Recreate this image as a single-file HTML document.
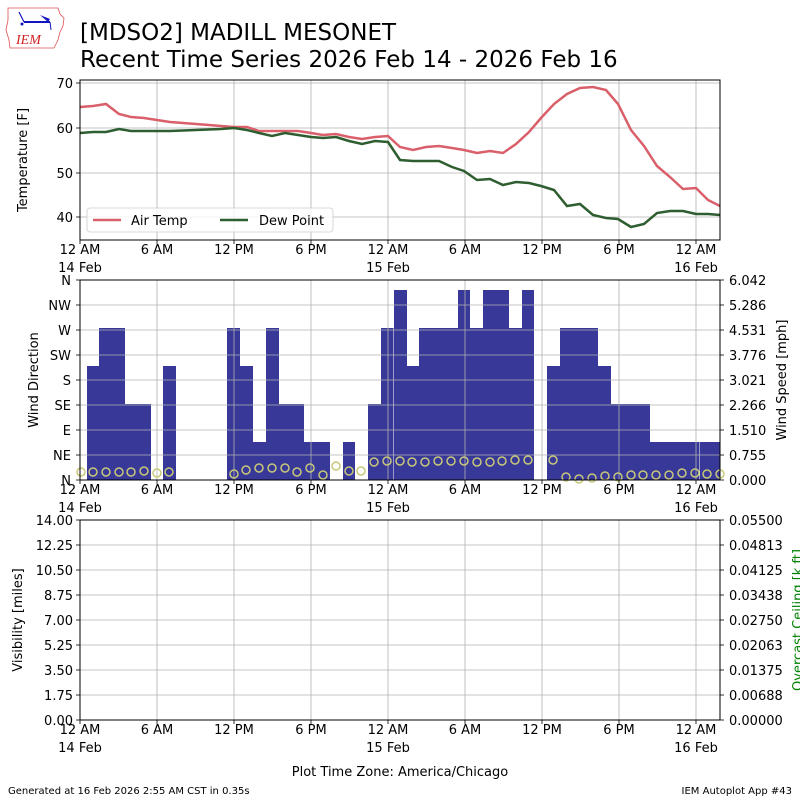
<!DOCTYPE html>
<html><head><meta charset="utf-8"><style>
html,body{margin:0;padding:0;background:#fff}
svg{display:block}
text{font-family:"DejaVu Sans","Liberation Sans",sans-serif;fill:#000}
</style></head><body>
<svg width="800" height="800" viewBox="0 0 800 800" xmlns="http://www.w3.org/2000/svg">
<g>
<path d="M8,8 L58,8 L60,14 L64,18 L63,26 L60,32 L58,40 L54,48 L10,48 L9,40 L6,30 L8,20 Z" fill="none" stroke="#e05050" stroke-width="0.8"/>
<line x1="24" y1="22" x2="50" y2="22" stroke="#1515c0" stroke-width="2"/>
<line x1="19" y1="12" x2="24" y2="22" stroke="#1515c0" stroke-width="1.2"/>
<path d="M40,15 L50,19 L48,22 Z" fill="#1515c0"/>
<line x1="50" y1="22" x2="51" y2="30" stroke="#1515c0" stroke-width="1"/>
<circle cx="22" cy="24" r="1.5" fill="#1515c0"/>
<text x="16" y="44" font-size="14" style="fill:#d02020;font-family:'Liberation Serif',serif;font-style:italic">IEM</text>
</g>
<text x="80" y="40" font-size="23">[MDSO2] MADILL MESONET</text>
<text x="80" y="67" font-size="23">Recent Time Series 2026 Feb 14 - 2026 Feb 16</text>

<g stroke="#b0b0b0" stroke-width="0.8">
<line x1="80" y1="83" x2="720" y2="83"/><line x1="80" y1="128" x2="720" y2="128"/><line x1="80" y1="173" x2="720" y2="173"/><line x1="80" y1="217" x2="720" y2="217"/>
<line x1="157" y1="80" x2="157" y2="240"/><line x1="234" y1="80" x2="234" y2="240"/><line x1="311" y1="80" x2="311" y2="240"/><line x1="388" y1="80" x2="388" y2="240"/><line x1="465" y1="80" x2="465" y2="240"/><line x1="542" y1="80" x2="542" y2="240"/><line x1="619" y1="80" x2="619" y2="240"/><line x1="696" y1="80" x2="696" y2="240"/>
</g>
<polyline fill="none" stroke="#d9606b" stroke-width="2.5" points="80,107 93,106 106,104 119,114 131,117 144,118 157,120 170,122 183,123 196,124 209,125 221,126 234,127 247,127 259,131 272,131 285,131 298,131 311,133 323,135 336,134 349,137 362,139 375,137 388,136 400,147 413,150 426,147 439,146 452,148 464,150 477,153 490,151 503,153 516,144 529,132 541,118 554,104 567,94 580,88 593,87 606,90 618,104 631,130 644,146 657,166 670,177 683,189 696,188 708,200 720,206"/>
<polyline fill="none" stroke="#2e5e30" stroke-width="2.5" points="80,133 93,132 106,132 119,129 131,131 144,131 170,131 196,130 221,129 234,128 247,130 259,133 272,136 285,133 298,135 311,137 323,138 336,137 349,141 362,144 375,141 388,142 400,160 413,161 426,161 439,161 452,167 464,171 477,180 490,179 503,185 516,182 529,183 541,186 554,190 567,206 580,204 593,215 606,218 618,219 631,227 644,224 657,213 670,211 683,211 696,214 708,214 720,215"/>
<rect x="80" y="80" width="640" height="160" fill="none" stroke="#000" stroke-width="1"/>
<rect x="87" y="208" width="246" height="24" rx="3" fill="#fff" fill-opacity="0.8" stroke="#ccc" stroke-width="0.8"/>
<line x1="93" y1="220" x2="121" y2="220" stroke="#d9606b" stroke-width="2.5"/>
<text x="131" y="225" font-size="13">Air Temp</text>
<line x1="220" y1="220" x2="248" y2="220" stroke="#2e5e30" stroke-width="2.5"/>
<text x="259" y="225" font-size="13">Dew Point</text>
<g font-size="13" text-anchor="end">
<text x="73" y="88">70</text><text x="73" y="133">60</text><text x="73" y="178">50</text><text x="73" y="222">40</text>
</g>
<g stroke="#000" stroke-width="0.8">
<line x1="76" y1="83" x2="80" y2="83"/><line x1="76" y1="128" x2="80" y2="128"/><line x1="76" y1="173" x2="80" y2="173"/><line x1="76" y1="217" x2="80" y2="217"/>
</g>
<text transform="translate(27,160) rotate(-90)" font-size="13" text-anchor="middle">Temperature [F]</text>

<g fill="#383898">
<rect x="87" y="366" width="12" height="114"/><rect x="99" y="328" width="26" height="152"/><rect x="125" y="404" width="26" height="76"/>
<rect x="163" y="366" width="13" height="114"/>
<rect x="227" y="328" width="13" height="152"/><rect x="240" y="366" width="13" height="114"/><rect x="253" y="442" width="13" height="38"/><rect x="266" y="328" width="13" height="152"/><rect x="279" y="404" width="25" height="76"/><rect x="304" y="442" width="26" height="38"/>
<rect x="343" y="442" width="12" height="38"/>
<rect x="368" y="404" width="13" height="76"/><rect x="381" y="328" width="12.5" height="152"/><rect x="394" y="290" width="13" height="190"/><rect x="407" y="366" width="12" height="114"/><rect x="419" y="328" width="39" height="152"/><rect x="458" y="290" width="12" height="190"/><rect x="470" y="328" width="13" height="152"/><rect x="483" y="290" width="26" height="190"/><rect x="509" y="328" width="13" height="152"/><rect x="522" y="290" width="12" height="190"/>
<rect x="547" y="366" width="13" height="114"/><rect x="560" y="328" width="38" height="152"/><rect x="598" y="366" width="13" height="114"/><rect x="611" y="404" width="39" height="76"/><rect x="650" y="442" width="49.5" height="38"/><rect x="700" y="442" width="20" height="38"/>
</g>
<g stroke="#b0b0b0" stroke-width="0.8">
<line x1="80" y1="305" x2="720" y2="305"/><line x1="80" y1="330" x2="720" y2="330"/><line x1="80" y1="355" x2="720" y2="355"/><line x1="80" y1="380" x2="720" y2="380"/><line x1="80" y1="405" x2="720" y2="405"/><line x1="80" y1="430" x2="720" y2="430"/><line x1="80" y1="455" x2="720" y2="455"/>
<line x1="157" y1="280" x2="157" y2="480"/><line x1="234" y1="280" x2="234" y2="480"/><line x1="311" y1="280" x2="311" y2="480"/><line x1="388" y1="280" x2="388" y2="480"/><line x1="465" y1="280" x2="465" y2="480"/><line x1="542" y1="280" x2="542" y2="480"/><line x1="619" y1="280" x2="619" y2="480"/><line x1="696" y1="280" x2="696" y2="480"/>
</g>
<g fill="none" stroke="#c8c87a" stroke-width="1.5">
<circle cx="81" cy="472" r="4"/><circle cx="93" cy="472" r="4"/><circle cx="106" cy="472" r="4"/><circle cx="119" cy="472" r="4"/><circle cx="131" cy="472" r="4"/><circle cx="144" cy="471" r="4"/><circle cx="157" cy="473" r="4"/><circle cx="169" cy="472" r="4"/>
<circle cx="234" cy="474" r="4"/><circle cx="246" cy="470" r="4"/><circle cx="259" cy="468" r="4"/><circle cx="272" cy="468" r="4"/><circle cx="285" cy="468" r="4"/><circle cx="297" cy="472" r="4"/><circle cx="310" cy="468" r="4"/><circle cx="323" cy="475" r="4"/><circle cx="336" cy="466" r="4"/><circle cx="349" cy="471" r="4"/><circle cx="361" cy="471" r="4"/><circle cx="374" cy="462" r="4"/>
<circle cx="387" cy="461" r="4"/><circle cx="400" cy="461" r="4"/><circle cx="412" cy="462" r="4"/><circle cx="425" cy="462" r="4"/><circle cx="438" cy="461" r="4"/><circle cx="451" cy="461" r="4"/><circle cx="464" cy="461" r="4"/><circle cx="477" cy="462" r="4"/><circle cx="490" cy="462" r="4"/><circle cx="502" cy="461" r="4"/><circle cx="515" cy="460" r="4"/><circle cx="528" cy="460" r="4"/><circle cx="553" cy="460" r="4"/>
<circle cx="566" cy="477" r="4"/><circle cx="579" cy="479" r="4"/><circle cx="592" cy="478" r="4"/><circle cx="605" cy="476" r="4"/><circle cx="618" cy="477" r="4"/><circle cx="631" cy="475" r="4"/><circle cx="643" cy="475" r="4"/><circle cx="656" cy="475" r="4"/><circle cx="669" cy="475" r="4"/><circle cx="682" cy="473" r="4"/><circle cx="695" cy="473" r="4"/><circle cx="707" cy="474" r="4"/><circle cx="720" cy="474" r="4"/>
</g>
<rect x="80" y="280" width="640" height="200" fill="none" stroke="#000" stroke-width="1"/>
<g font-size="13" text-anchor="end">
<text x="71" y="285">N</text><text x="71" y="310">NW</text><text x="71" y="335">W</text><text x="71" y="360">SW</text><text x="71" y="385">S</text><text x="71" y="410">SE</text><text x="71" y="435">E</text><text x="71" y="460">NE</text><text x="71" y="485">N</text>
</g>
<g font-size="13">
<text x="729" y="285">6.042</text><text x="729" y="310">5.286</text><text x="729" y="335">4.531</text><text x="729" y="360">3.776</text><text x="729" y="385">3.021</text><text x="729" y="410">2.266</text><text x="729" y="435">1.510</text><text x="729" y="460">0.755</text><text x="729" y="485">0.000</text>
</g>
<g stroke="#000" stroke-width="0.8">
<line x1="76" y1="280" x2="80" y2="280"/><line x1="76" y1="305" x2="80" y2="305"/><line x1="76" y1="330" x2="80" y2="330"/><line x1="76" y1="355" x2="80" y2="355"/><line x1="76" y1="380" x2="80" y2="380"/><line x1="76" y1="405" x2="80" y2="405"/><line x1="76" y1="430" x2="80" y2="430"/><line x1="76" y1="455" x2="80" y2="455"/><line x1="76" y1="480" x2="80" y2="480"/>
<line x1="720" y1="280" x2="724" y2="280"/><line x1="720" y1="305" x2="724" y2="305"/><line x1="720" y1="330" x2="724" y2="330"/><line x1="720" y1="355" x2="724" y2="355"/><line x1="720" y1="380" x2="724" y2="380"/><line x1="720" y1="405" x2="724" y2="405"/><line x1="720" y1="430" x2="724" y2="430"/><line x1="720" y1="455" x2="724" y2="455"/><line x1="720" y1="480" x2="724" y2="480"/>
</g>
<text transform="translate(38,380) rotate(-90)" font-size="13" text-anchor="middle">Wind Direction</text>
<text transform="translate(786,380) rotate(-90)" font-size="13" text-anchor="middle">Wind Speed [mph]</text>

<g stroke="#b0b0b0" stroke-width="0.8">
<line x1="80" y1="545" x2="720" y2="545"/><line x1="80" y1="570" x2="720" y2="570"/><line x1="80" y1="595" x2="720" y2="595"/><line x1="80" y1="620" x2="720" y2="620"/><line x1="80" y1="645" x2="720" y2="645"/><line x1="80" y1="670" x2="720" y2="670"/><line x1="80" y1="695" x2="720" y2="695"/>
<line x1="157" y1="520" x2="157" y2="720"/><line x1="234" y1="520" x2="234" y2="720"/><line x1="311" y1="520" x2="311" y2="720"/><line x1="388" y1="520" x2="388" y2="720"/><line x1="465" y1="520" x2="465" y2="720"/><line x1="542" y1="520" x2="542" y2="720"/><line x1="619" y1="520" x2="619" y2="720"/><line x1="696" y1="520" x2="696" y2="720"/>
</g>
<rect x="80" y="520" width="640" height="200" fill="none" stroke="#000" stroke-width="1"/>
<g font-size="13" text-anchor="end">
<text x="73" y="525">14.00</text><text x="73" y="550">12.25</text><text x="73" y="575">10.50</text><text x="73" y="600">8.75</text><text x="73" y="625">7.00</text><text x="73" y="650">5.25</text><text x="73" y="675">3.50</text><text x="73" y="700">1.75</text><text x="73" y="725">0.00</text>
</g>
<g font-size="13">
<text x="729" y="525">0.05500</text><text x="729" y="550">0.04813</text><text x="729" y="575">0.04125</text><text x="729" y="600">0.03438</text><text x="729" y="625">0.02750</text><text x="729" y="650">0.02063</text><text x="729" y="675">0.01375</text><text x="729" y="700">0.00688</text><text x="729" y="725">0.00000</text>
</g>
<g stroke="#000" stroke-width="0.8">
<line x1="76" y1="520" x2="80" y2="520"/><line x1="76" y1="545" x2="80" y2="545"/><line x1="76" y1="570" x2="80" y2="570"/><line x1="76" y1="595" x2="80" y2="595"/><line x1="76" y1="620" x2="80" y2="620"/><line x1="76" y1="645" x2="80" y2="645"/><line x1="76" y1="670" x2="80" y2="670"/><line x1="76" y1="695" x2="80" y2="695"/><line x1="76" y1="720" x2="80" y2="720"/>
<line x1="720" y1="520" x2="724" y2="520"/><line x1="720" y1="545" x2="724" y2="545"/><line x1="720" y1="570" x2="724" y2="570"/><line x1="720" y1="595" x2="724" y2="595"/><line x1="720" y1="620" x2="724" y2="620"/><line x1="720" y1="645" x2="724" y2="645"/><line x1="720" y1="670" x2="724" y2="670"/><line x1="720" y1="695" x2="724" y2="695"/><line x1="720" y1="720" x2="724" y2="720"/>
</g>
<text transform="translate(22,620) rotate(-90)" font-size="13" text-anchor="middle">Visibility [miles]</text>
<text transform="translate(802,620) rotate(-90)" font-size="13" text-anchor="middle" style="fill:#008000">Overcast Ceiling [k ft]</text>

<g font-size="13" text-anchor="middle">
<text x="80" y="254">12 AM</text><text x="80" y="272">14 Feb</text><text x="157" y="254">6 AM</text><text x="234" y="254">12 PM</text><text x="311" y="254">6 PM</text><text x="388" y="254">12 AM</text><text x="388" y="272">15 Feb</text><text x="465" y="254">6 AM</text><text x="542" y="254">12 PM</text><text x="619" y="254">6 PM</text><text x="696" y="254">12 AM</text><text x="696" y="272">16 Feb</text>
<text x="80" y="494">12 AM</text><text x="80" y="512">14 Feb</text><text x="157" y="494">6 AM</text><text x="234" y="494">12 PM</text><text x="311" y="494">6 PM</text><text x="388" y="494">12 AM</text><text x="388" y="512">15 Feb</text><text x="465" y="494">6 AM</text><text x="542" y="494">12 PM</text><text x="619" y="494">6 PM</text><text x="696" y="494">12 AM</text><text x="696" y="512">16 Feb</text>
<text x="80" y="734">12 AM</text><text x="80" y="752">14 Feb</text><text x="157" y="734">6 AM</text><text x="234" y="734">12 PM</text><text x="311" y="734">6 PM</text><text x="388" y="734">12 AM</text><text x="388" y="752">15 Feb</text><text x="465" y="734">6 AM</text><text x="542" y="734">12 PM</text><text x="619" y="734">6 PM</text><text x="696" y="734">12 AM</text><text x="696" y="752">16 Feb</text>
<text x="400" y="776">Plot Time Zone: America/Chicago</text>
</g>
<g stroke="#000" stroke-width="0.8">
<path d="M80,240v4M157,240v4M234,240v4M311,240v4M388,240v4M465,240v4M542,240v4M619,240v4M696,240v4"/>
<path d="M80,480v4M157,480v4M234,480v4M311,480v4M388,480v4M465,480v4M542,480v4M619,480v4M696,480v4"/>
<path d="M80,720v4M157,720v4M234,720v4M311,720v4M388,720v4M465,720v4M542,720v4M619,720v4M696,720v4"/>
</g>
<text x="8" y="794" font-size="10">Generated at 16 Feb 2026 2:55 AM CST in 0.35s</text>
<text x="792" y="794" font-size="10" text-anchor="end">IEM Autoplot App #43</text>
</svg>
</body></html>
